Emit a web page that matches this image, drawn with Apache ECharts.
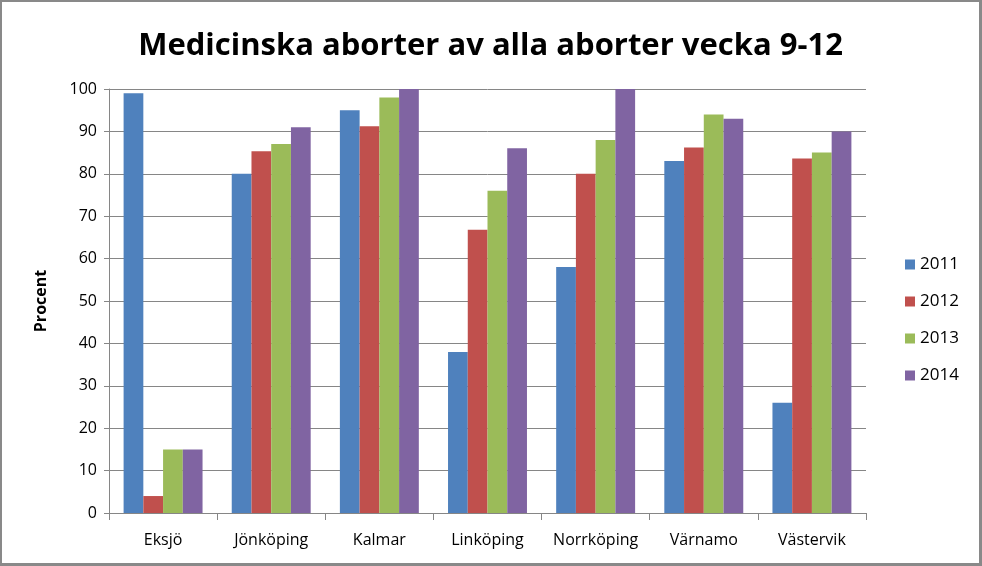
<!DOCTYPE html>
<html><head><meta charset="utf-8">
<script src="https://cdn.jsdelivr.net/npm/echarts@6/dist/echarts.min.js"></script>
<style>html,body{margin:0;padding:0;background:#fff}#c{width:982px;height:566px;box-sizing:border-box;border:3px solid #898989;border-top-width:2px;border-left-width:2px}</style>
</head><body><div id="c"></div>
<script>
const categories = ['Eksjö','Jönköping','Kalmar','Linköping','Norrköping','Värnamo','Västervik'];
const years = ['2011','2012','2013','2014'];
const v2011 = [99, 80, 95, 38, 58, 83, 26];
const v2012 = [4, 85.3, 91.2, 66.8, 80, 86.2, 83.6];
const v2013 = [15, 87, 98, 76, 88, 94, 85];
const v2014 = [15, 91, 100, 86, 100, 93, 90];
const yTicks = {min: 0, max: 100, interval: 10};
const colors = ['#4F81BD','#C0504D','#9BBB59','#8064A2'];
const values = [v2011, v2012, v2013, v2014];
const chart = echarts.init(document.getElementById('c'));
const font = 'Open Sans, sans-serif';
chart.setOption({
  animation: false,
  title: {text: 'Medicinska aborter av alla aborter vecka 9-12', left: 'center', top: 24,
    textStyle: {fontFamily: 'Open Sans', fontWeight: 'bold', fontSize: 31, color: '#000'}},
  legend: {orient: 'vertical', left: 898, top: 249, itemGap: 20, itemWidth: 10, itemHeight: 10,
    textStyle: {fontFamily: font, fontSize: 17, color: '#000'}, data: years, icon: 'rect'},
  grid: {left: 107, right: 113, top: 87, bottom: 50, containLabel: false},
  xAxis: {type: 'category', data: categories,
    axisLine: {lineStyle: {color: '#868686'}},
    axisTick: {show: true, length: 7, lineStyle: {color: '#868686'}},
    axisLabel: {fontFamily: font, fontSize: 16, color: '#000', margin: 19, interval: 0}},
  yAxis: {type: 'value', min: yTicks.min, max: yTicks.max, interval: yTicks.interval,
    name: 'Procent', nameLocation: 'middle', nameGap: 60, nameRotate: 90,
    nameTextStyle: {fontFamily: font, fontWeight: 'bold', fontSize: 16, color: '#000'},
    axisLine: {show: true, lineStyle: {color: '#868686'}},
    axisTick: {show: true, length: 5, lineStyle: {color: '#868686'}},
    axisLabel: {fontFamily: font, fontSize: 16, color: '#000', margin: 12},
    splitLine: {lineStyle: {color: '#868686'}}},
  series: years.map((y, i) => ({name: y, type: 'bar', data: values[i], barGap: '0%', barCategoryGap: '27%',
    itemStyle: {color: colors[i]}}))
});
</script></body></html>
